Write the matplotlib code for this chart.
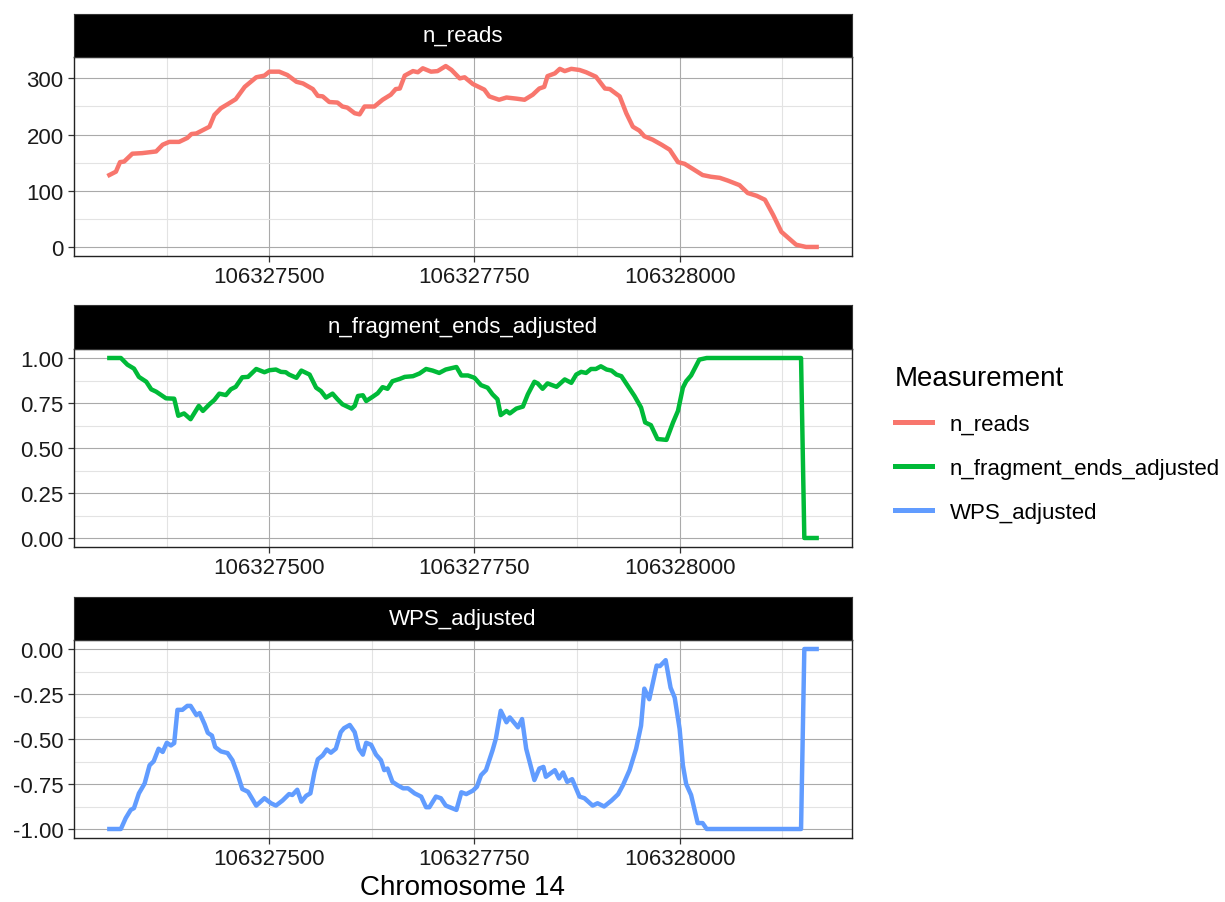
import numpy as np
import matplotlib
matplotlib.use('Agg')
import matplotlib.pyplot as plt
from matplotlib.lines import Line2D
from matplotlib.ticker import MultipleLocator

plt.rcParams['font.family'] = ['Liberation Sans', 'DejaVu Sans']

BASE = 106327000

# n_reads (positions as offsets from BASE)
reads_pos = [305, 313, 318, 323, 333, 345, 362, 370, 378, 390, 400, 405, 411, 427, 433,
             441, 449, 459, 470, 484, 494, 500, 512, 522, 533, 541, 553, 559, 565, 573,
             583, 589, 595, 604, 610, 616, 628, 638, 648, 654, 659, 665, 675, 681, 687,
             697, 705, 715, 722, 732, 738, 748, 762, 768, 780, 789, 801, 811, 821, 829,
             835, 839, 848, 854, 860, 868, 878, 886, 898, 909, 915, 927, 935, 943, 951,
             957, 967, 978, 988, 998, 1006, 1016, 1028, 1038, 1049, 1059, 1073, 1083,
             1094, 1104, 1114, 1124, 1142, 1154, 1167]
reads_val = [128, 134, 151, 152, 166, 167, 170, 182, 187, 187, 194, 201, 202, 214, 235,
             247, 254, 263, 285, 302, 305, 312, 312, 306, 294, 291, 281, 269, 268, 258,
             257, 250, 248, 238, 236, 250, 250, 262, 271, 281, 282, 305, 313, 311, 318,
             312, 313, 322, 315, 300, 302, 290, 280, 268, 262, 266, 264, 262, 271, 282,
             285, 304, 309, 317, 313, 317, 315, 311, 303, 282, 281, 268, 238, 214, 207,
             197, 191, 182, 173, 151, 148, 139, 128, 125, 123, 118, 110, 96,
             91, 84, 57, 27, 4, 0, 0]

# n_fragment_ends_adjusted
frag_pos = [305, 319, 327, 335, 341, 350, 356, 362, 374, 384, 389, 396, 404, 414, 419,
            427, 433, 439, 447, 453, 459, 467, 474, 484, 494, 500, 508, 514, 520, 524,
            533, 539, 549, 557, 563, 569, 577, 583, 589, 600, 604, 608, 614, 618, 626,
            632, 638, 644, 650, 659, 665, 675, 683, 691, 699, 707, 715, 728, 734, 742,
            750, 758, 766, 772, 778, 782, 789, 793, 801, 809, 815, 823, 827, 833, 839,
            850, 860, 868, 874, 880, 886, 892, 898, 904, 911, 917, 923, 929, 937, 945,
            953, 958, 965, 973, 984, 992, 998, 1004, 1008, 1014, 1024, 1033, 1148, 1152,
            1167]
frag_val = [1.00, 1.00, 0.963, 0.941, 0.895, 0.868, 0.826, 0.813, 0.776, 0.774, 0.679,
            0.692, 0.660, 0.734, 0.706, 0.743, 0.767, 0.802, 0.794, 0.826, 0.840, 0.893,
            0.895, 0.939, 0.921, 0.932, 0.936, 0.923, 0.921, 0.908, 0.890, 0.930, 0.908,
            0.835, 0.816, 0.780, 0.802, 0.771, 0.743, 0.719, 0.734, 0.789, 0.793, 0.761,
            0.785, 0.804, 0.838, 0.829, 0.871, 0.884, 0.895, 0.899, 0.914, 0.939, 0.930,
            0.917, 0.936, 0.950, 0.903, 0.903, 0.890, 0.849, 0.835, 0.798, 0.771, 0.683,
            0.706, 0.692, 0.719, 0.730, 0.798, 0.868, 0.859, 0.829, 0.859, 0.840, 0.881,
            0.862, 0.908, 0.923, 0.917, 0.939, 0.939, 0.954, 0.936, 0.930, 0.908, 0.899,
            0.844, 0.789, 0.725, 0.642, 0.627, 0.550, 0.545, 0.642, 0.706, 0.835, 0.871,
            0.903, 0.991, 1.00, 1.00, 0.00, 0.00]

# WPS_adjusted
wps_pos = [305, 319, 325, 331, 335, 341, 348, 354, 359, 365, 370, 375, 380, 384, 388,
           394, 400, 404, 411, 415, 421, 425, 430, 434, 441, 449, 455, 461, 467, 474,
           484, 494, 502, 508, 516, 524, 528, 534, 539, 545, 550, 555, 559, 565, 570,
           575, 581, 587, 591, 598, 604, 609, 614, 618, 624, 630, 636, 640, 644, 650,
           656, 663, 669, 677, 685, 691, 695, 703, 709, 715, 728, 734, 740, 748, 753,
           758, 764, 772, 776, 782, 789, 793, 803, 808, 813, 823, 829, 834, 837, 848,
           853, 858, 863, 869, 878, 884, 894, 900, 908, 917, 925, 931, 939, 947, 953,
           957, 963, 972, 976, 983, 989, 994, 1000, 1004, 1008, 1014, 1022, 1028, 1033,
           1148, 1152, 1167]
wps_val = [-1.00, -1.00, -0.939, -0.894, -0.884, -0.802, -0.747, -0.646, -0.624, -0.554,
           -0.572, -0.521, -0.536, -0.523, -0.338, -0.338, -0.316, -0.316, -0.367, -0.356,
           -0.417, -0.466, -0.481, -0.545, -0.569, -0.578, -0.618, -0.692, -0.778, -0.793,
           -0.870, -0.829, -0.857, -0.870, -0.842, -0.806, -0.811, -0.782, -0.848, -0.815,
           -0.802, -0.683, -0.613, -0.591, -0.558, -0.576, -0.554, -0.462, -0.440, -0.422,
           -0.462, -0.554, -0.587, -0.521, -0.532, -0.587, -0.618, -0.673, -0.664, -0.738,
           -0.756, -0.774, -0.774, -0.802, -0.820, -0.879, -0.879, -0.820, -0.829, -0.870,
           -0.894, -0.796, -0.806, -0.787, -0.765, -0.701, -0.673, -0.563, -0.499, -0.343,
           -0.407, -0.380, -0.435, -0.389, -0.554, -0.728, -0.664, -0.655, -0.710, -0.673,
           -0.719, -0.686, -0.738, -0.723, -0.820, -0.829, -0.870, -0.857, -0.875, -0.842,
           -0.807, -0.756, -0.673, -0.554, -0.426, -0.220, -0.279, -0.092, -0.095, -0.062,
           -0.215, -0.270, -0.444, -0.646, -0.750, -0.811, -0.967, -0.967, -1.00,
           -1.00, 0.00, 0.00]

names = ['n_reads', 'n_fragment_ends_adjusted', 'WPS_adjusted']
colors = ['#F8766D', '#00BA38', '#619CFF']
series = [(reads_pos, reads_val), (frag_pos, frag_val), (wps_pos, wps_val)]
y_major = [100, 0.25, 0.25]
y_fmt = ['{:.0f}', '{:.2f}', '{:.2f}']
x_ticks = [106327500, 106327750, 106328000]

W, H = 1225, 903
fig = plt.figure(figsize=(W / 100, H / 100), dpi=100)

left, right = 74, 852
panels = [(58, 257, 15), (350, 548, 306), (641, 839, 598)]
FS = 16

for i, (name, col, (px, vals)) in enumerate(zip(names, colors, series)):
    top, bot, stop = panels[i]
    ax = fig.add_axes([left / W, 1 - bot / H, (right - left) / W, (bot - top) / H])
    xs = BASE + np.array(px)
    vals = np.array(vals)
    ax.plot(xs, vals, color=col, lw=3.2, solid_joinstyle='round', zorder=3)
    xr = xs.max() - xs.min()
    ax.set_xlim(xs.min() - 0.05 * xr, xs.max() + 0.05 * xr)
    lo, hi = min(vals.min(), 0), vals.max()
    yr = hi - lo
    ax.set_ylim(lo - 0.05 * yr, hi + 0.05 * yr)
    ax.set_xticks(x_ticks)
    ax.set_xticklabels([str(t) for t in x_ticks])
    ax.xaxis.set_minor_locator(MultipleLocator(125))
    ax.yaxis.set_major_locator(MultipleLocator(y_major[i]))
    ax.yaxis.set_minor_locator(MultipleLocator(y_major[i] / 2))
    fmt = y_fmt[i]
    ax.set_yticklabels([fmt.format(t) for t in ax.get_yticks()])
    ax.set_ylim(lo - 0.05 * yr, hi + 0.05 * yr)
    ax.grid(which='major', color='#aaaaaa', lw=0.8)
    ax.grid(which='minor', color='#e3e3e3', lw=0.8)
    ax.set_axisbelow(True)
    ax.tick_params(which='major', length=4.5, width=0.9, color='#333333',
                   labelsize=FS, labelcolor='#1a1a1a', pad=3)
    ax.tick_params(which='minor', length=0)
    for sp in ax.spines.values():
        sp.set_color('#222222')
        sp.set_linewidth(1.0)
    # strip
    sax = fig.add_axes([left / W, 1 - top / H, (right - left) / W, (top - stop) / H])
    sax.set_facecolor('black')
    sax.set_xticks([])
    sax.set_yticks([])
    for sp in sax.spines.values():
        sp.set_color('#333333')
    sax.text(0.5, 0.5, name, color='white', fontsize=FS, ha='center', va='center',
             transform=sax.transAxes)

fig.text(463 / W, 1 - 888 / H, 'Chromosome 14', fontsize=20, ha='center', va='center',
         color='black')

handles = [Line2D([], [], color=c, lw=3.6) for c in colors]
leg = fig.legend(handles, names, loc='upper left', bbox_to_anchor=(875 / W, 1 - 346 / H),
                 frameon=False, title='Measurement', fontsize=FS, title_fontsize=20,
                 handlelength=1.65, handletextpad=0.8, labelspacing=1.03, alignment='left')

fig.savefig('out.png', dpi=100)
